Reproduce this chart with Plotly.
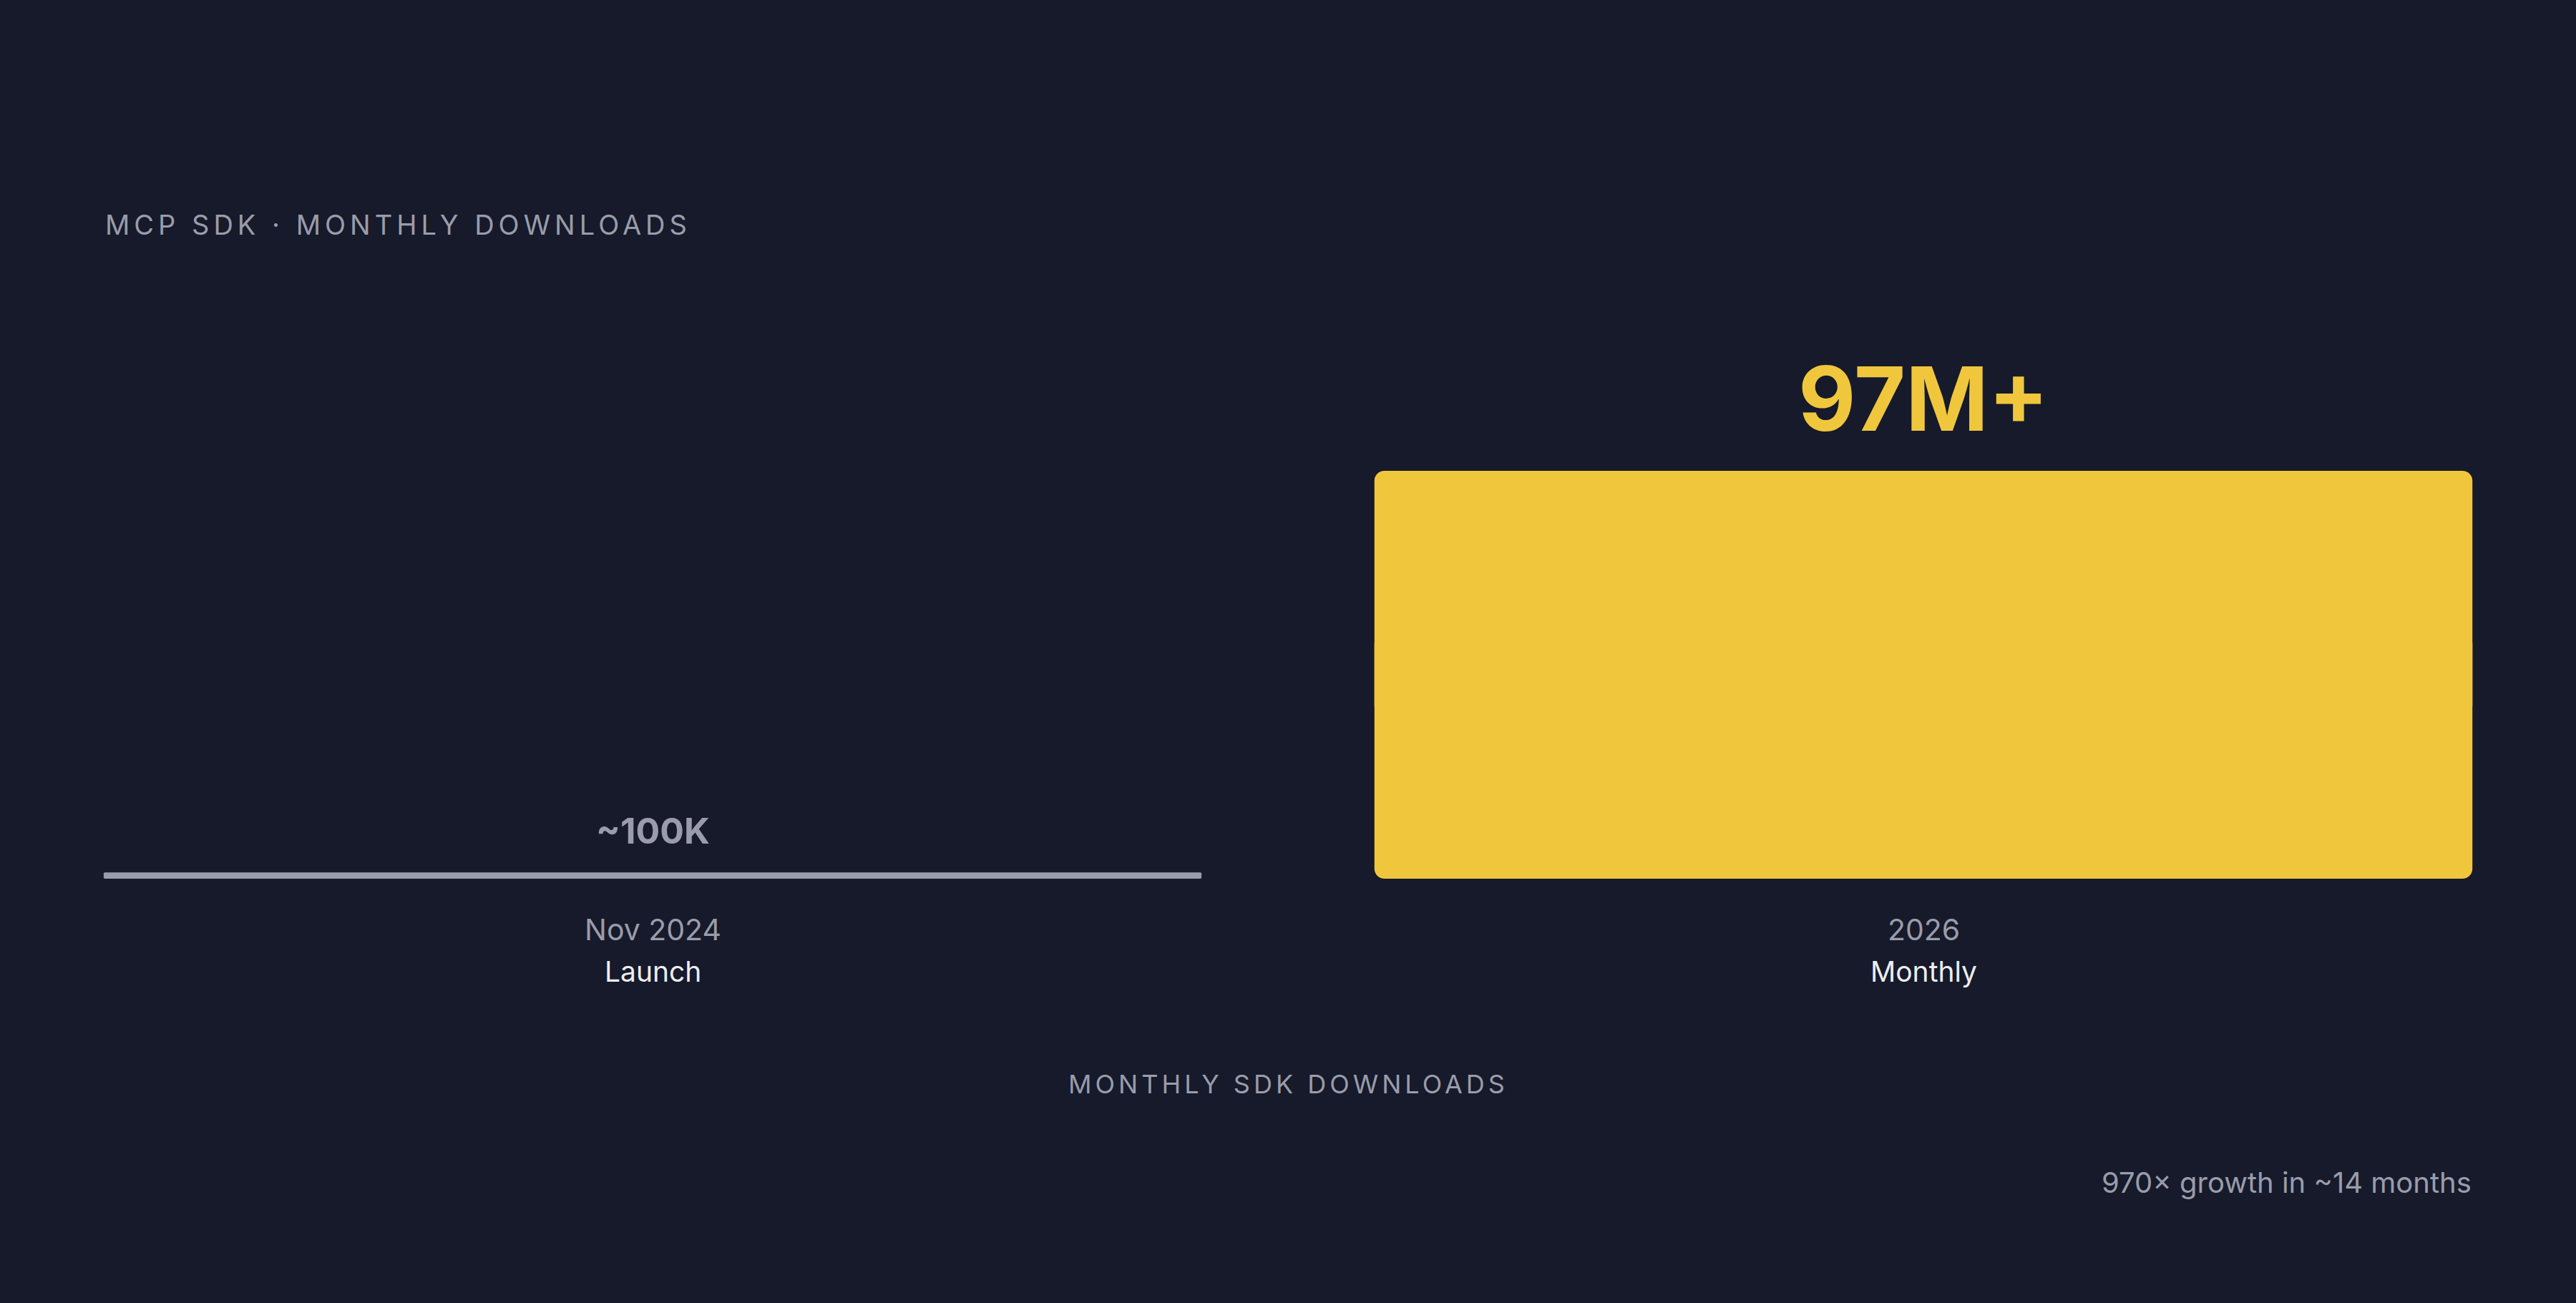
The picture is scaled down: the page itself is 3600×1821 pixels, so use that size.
import plotly.graph_objects as go

# Data
periods = ["Nov 2024", "2026"]
period_notes = ["Launch", "Monthly"]
downloads_m = [0.1, 97]  # monthly SDK downloads, millions
value_labels = ["~100K", "97M+"]
chart_title = "MCP SDK · MONTHLY DOWNLOADS"
axis_title = "MONTHLY SDK DOWNLOADS"
footnote = "970× growth in ~14 months"

# Style
BG = "#161a2a"
GREY = "#9a9cab"
YELLOW = "#f0c73c"
WHITE = "#eceef4"
FONT = "Inter, 'Noto Sans', sans-serif"

bar_colors = [GREY, YELLOW]
label_sizes = [50, 124]
label_gaps = [58, 101]      # px from bar top to label centre
corner_radii = [4, 14]
BAR_WIDTH = 0.864

W, H = 3600, 1821
L, R, T, B = 24, 24, 464, 593
Y_MAX = 130
MIN_SHOWN = 1.5  # keep a near-zero bar visible as a thin stub

shown = [max(v, MIN_SHOWN) for v in downloads_m]


def paper_x(px):
    return (px - L) / (W - L - R)


fig = go.Figure()

# each bar drawn as two overlapping halves so both ends get rounded corners
for i, cat in enumerate(periods):
    v = shown[i]
    for y, base in [(v * 0.6, v * 0.4), (-v * 0.6, v * 0.6)]:
        fig.add_trace(go.Bar(
            x=[cat], y=[y], base=[base], width=[BAR_WIDTH],
            marker=dict(color=bar_colors[i], line=dict(width=0),
                        cornerradius=corner_radii[i]),
            hoverinfo="skip", showlegend=False,
        ))

# category axis: annotations placed by category index
annotations = []
for i, cat in enumerate(periods):
    annotations.append(dict(
        x=i, y=shown[i], xref="x", yref="y", yanchor="middle",
        yshift=label_gaps[i], text=value_labels[i], showarrow=False,
        font=dict(family=FONT, size=label_sizes[i], color=bar_colors[i], weight=700),
    ))
    annotations.append(dict(
        x=i, y=0, xref="x", yref="paper", yanchor="middle", yshift=-71,
        text=cat, showarrow=False,
        font=dict(family=FONT, size=41, color=GREY),
    ))
    annotations.append(dict(
        x=i, y=0, xref="x", yref="paper", yanchor="middle", yshift=-129,
        text=period_notes[i], showarrow=False,
        font=dict(family=FONT, size=39, color=WHITE),
    ))

annotations.append(dict(
    x=paper_x(145), y=0, xref="paper", yref="paper", xanchor="left",
    yanchor="middle", yshift=914, showarrow=False,
    text=f"<span style='letter-spacing:6px'>{chart_title}</span>",
    font=dict(family=FONT, size=38, color=GREY),
))
annotations.append(dict(
    x=0.5, y=0, xref="paper", yref="paper", xanchor="center",
    yanchor="middle", yshift=-287, showarrow=False,
    text=f"<span style='letter-spacing:5px'>{axis_title}</span>",
    font=dict(family=FONT, size=36, color=GREY),
))
annotations.append(dict(
    x=paper_x(3456), y=0, xref="paper", yref="paper", xanchor="right",
    yanchor="middle", yshift=-424, showarrow=False, text=footnote,
    font=dict(family=FONT, size=40, color=GREY),
))

fig.update_layout(
    width=W, height=H,
    margin=dict(l=L, r=R, t=T, b=B, pad=0),
    paper_bgcolor=BG, plot_bgcolor=BG,
    barmode="overlay",
    annotations=annotations,
    showlegend=False,
)
fig.update_xaxes(type="category", categoryorder="array", categoryarray=periods,
                 range=[-0.5, len(periods) - 0.5],
                 showgrid=False, zeroline=False, showline=False,
                 showticklabels=False, ticks="", fixedrange=True)
fig.update_yaxes(range=[0, Y_MAX], showgrid=False, zeroline=False, showline=False,
                 showticklabels=False, ticks="", fixedrange=True)

fig.write_html("out.html", config={"displayModeBar": False},
               post_script="document.body.style.margin='0';")
